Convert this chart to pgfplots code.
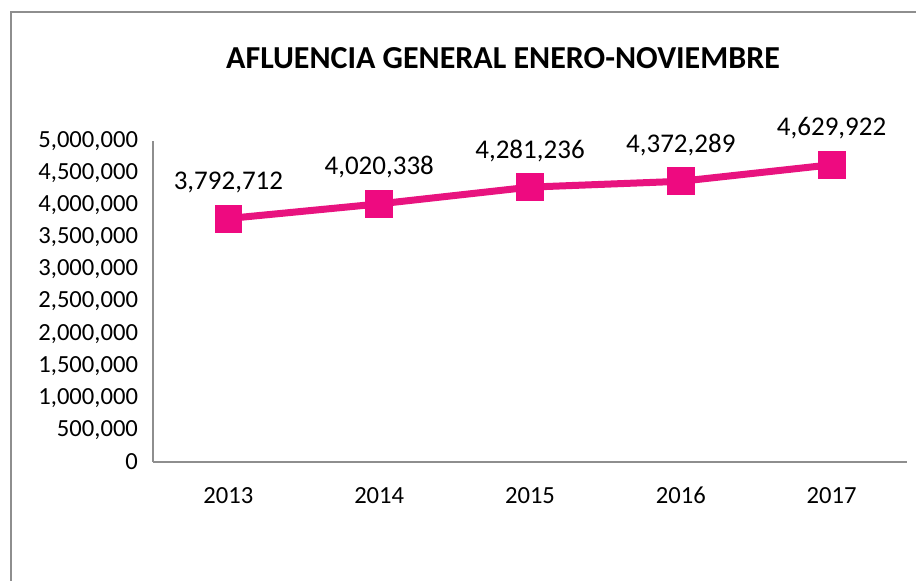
\documentclass[border=0pt]{standalone}
\usepackage{fontspec}
\setmainfont{Carlito}
\usepackage{pgfplots}
\pgfplotsset{compat=1.18}
\definecolor{afl-pink}{HTML}{E8137F}
\definecolor{afl-mark}{HTML}{EE0A80}
\definecolor{afl-axis}{HTML}{8E8E8E}

\begin{document}
\begin{tikzpicture}
% page = 916x581 px, 1px = 0.5pt
\useasboundingbox (0,0) rectangle (458pt,-290.5pt);
\draw[afl-axis, line width=1pt] (5.3pt,-5.9pt) rectangle (470pt,-300pt);
\node[font=\fontsize{16}{18}\selectfont\bfseries] at (251.5pt,-29pt) {AFLUENCIA GENERAL ENERO-NOVIEMBRE};
\begin{axis}[
    at={(76.5pt,-231pt)}, anchor=south west,
    scale only axis,
    width=377pt, height=160.5pt,
    xmin=-0.5, xmax=4.5,
    ymin=0, ymax=5000000,
    xtick={0,1,2,3,4},
    xticklabels={2013,2014,2015,2016,2017},
    ytick distance=500000,
    scaled y ticks=false,
    axis lines*=left,
    axis line style={afl-axis, line width=1pt},
    major tick length=0pt,
    tick label style={font=\fontsize{12.3}{14}\selectfont},
    /pgf/number format/assume math mode=true,
    /pgf/number format/.cd, fixed, precision=0, 1000 sep={,},
    /pgfplots/.cd,
    yticklabel style={xshift=-4pt},
    xticklabel style={yshift=-9pt},
    nodes near coords,
    nodes near coords style={font=\fontsize{13.5}{15}\selectfont, text=black, anchor=base, inner sep=0pt, yshift=14.5pt},
    clip=false,
]
\addplot[afl-pink, line width=3.5pt, mark=square*, mark size=6.7pt,
    mark options={fill=afl-mark, draw=afl-mark, line width=0.4pt}]
    coordinates {(0,3792712) (1,4020338) (2,4281236) (3,4372289) (4,4629922)};
\end{axis}
\end{tikzpicture}
\end{document}
